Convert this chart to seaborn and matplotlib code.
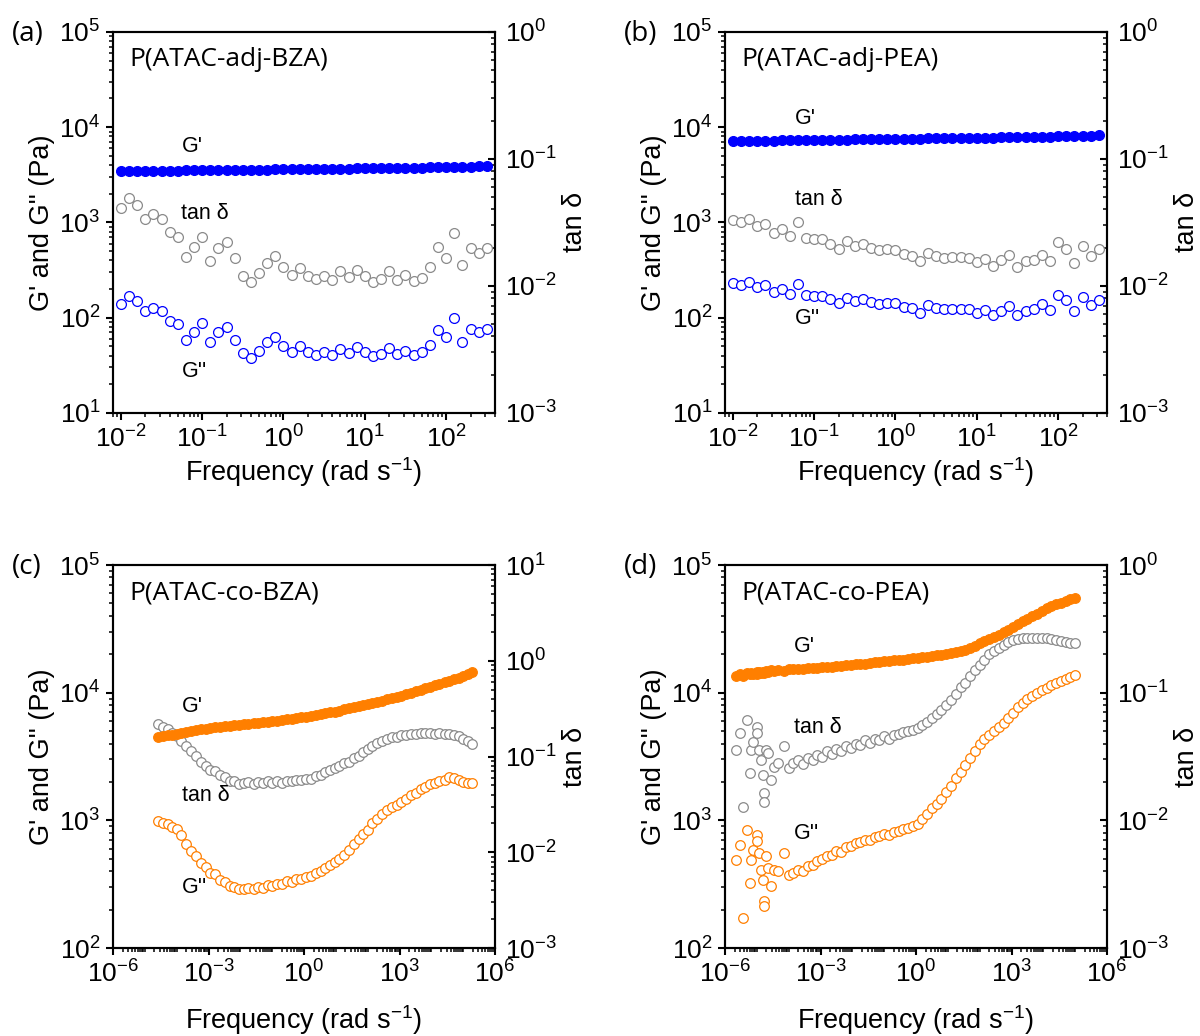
import numpy as np
import pandas as pd
import seaborn as sns
import matplotlib.pyplot as plt
from matplotlib.ticker import FixedLocator, LogLocator, LogFormatterSciNotation, NullFormatter

# ---------------- data ----------------
# (a) / (b): frequency sweeps, 10 points per decade
freq_ab = [0.01, 0.0126, 0.0158, 0.02, 0.0251, 0.0316, 0.0398, 0.0501, 0.0631, 0.0794,
           0.1, 0.126, 0.158, 0.2, 0.251, 0.316, 0.398, 0.501, 0.631, 0.794,
           1.0, 1.26, 1.58, 2.0, 2.51, 3.16, 3.98, 5.01, 6.31, 7.94,
           10.0, 12.6, 15.8, 20.0, 25.1, 31.6, 39.8, 50.1, 63.1, 79.4,
           100.0, 126.0, 158.0, 200.0, 251.0, 316.0]

gp_a = [3450, 3455, 3465, 3470, 3480, 3490, 3495, 3505, 3510, 3520,
        3530, 3535, 3545, 3550, 3560, 3570, 3575, 3585, 3590, 3600,
        3610, 3620, 3625, 3635, 3645, 3655, 3660, 3670, 3680, 3690,
        3700, 3710, 3720, 3730, 3740, 3750, 3760, 3770, 3785, 3795,
        3810, 3820, 3835, 3850, 3870, 3890]
gpp_a = [140, 169, 150, 117, 127, 117, 92, 85, 59, 71,
         87, 56, 70, 79, 59, 43, 38, 45, 55, 63,
         50, 44, 50, 44, 41, 44, 41, 47, 43, 49,
         44, 40, 42, 48, 42, 45, 41, 44, 52, 75,
         63, 100, 56, 77, 71, 77]
tan_a = [0.0410, 0.0488, 0.0435, 0.0338, 0.0367, 0.0338, 0.0264, 0.0243, 0.0170, 0.0202,
         0.0245, 0.0158, 0.0198, 0.0220, 0.0166, 0.0119, 0.0107, 0.0126, 0.0152, 0.0171,
         0.0140, 0.0121, 0.0138, 0.0119, 0.0114, 0.0119, 0.0111, 0.0130, 0.0118, 0.0134,
         0.0119, 0.0107, 0.0114, 0.0130, 0.0111, 0.0121, 0.0109, 0.0116, 0.0141, 0.0202,
         0.0166, 0.0261, 0.0146, 0.0198, 0.0182, 0.0199]

gp_b = [7140, 7160, 7175, 7200, 7215, 7240, 7255, 7280, 7300, 7315,
        7340, 7360, 7375, 7400, 7420, 7440, 7455, 7480, 7500, 7520,
        7540, 7560, 7580, 7600, 7620, 7640, 7660, 7685, 7700, 7720,
        7745, 7760, 7790, 7810, 7840, 7860, 7890, 7910, 7940, 7970,
        8000, 8030, 8060, 8100, 8140, 8190]
gpp_b = [229, 220, 237, 211, 220, 187, 201, 176, 227, 173,
         169, 169, 156, 141, 162, 150, 158, 146, 140, 144,
         141, 130, 127, 113, 136, 127, 122, 124, 124, 122,
         113, 120, 108, 117, 133, 106, 117, 122, 138, 120,
         171, 152, 117, 166, 135, 153]
tan_b = [0.0332, 0.0318, 0.0336, 0.0298, 0.0309, 0.0261, 0.0281, 0.0248, 0.0316, 0.0240,
         0.0234, 0.0234, 0.0215, 0.0195, 0.0224, 0.0205, 0.0214, 0.0199, 0.0193, 0.0196,
         0.0193, 0.0178, 0.0173, 0.0156, 0.0182, 0.0171, 0.0166, 0.0169, 0.0168, 0.0166,
         0.0153, 0.0163, 0.0144, 0.0159, 0.0174, 0.0140, 0.0156, 0.0161, 0.0176, 0.0156,
         0.0220, 0.0195, 0.0152, 0.0207, 0.0171, 0.0195]

# (c): master curve P(ATAC-co-BZA)
freq_c = [2.6e-5, 3.7e-5, 5.2e-5, 7.3e-5, 1.0e-4, 1.4e-4, 2.0e-4, 2.9e-4, 4.1e-4, 5.8e-4,
          8.2e-4, 1.15e-3, 1.6e-3, 2.3e-3, 3.3e-3, 4.6e-3, 6.5e-3, 9.2e-3, 0.013, 0.018,
          0.026, 0.037, 0.052, 0.073, 0.10, 0.14, 0.20, 0.29, 0.41, 0.58,
          0.82, 1.15, 1.6, 2.3, 3.3, 4.6, 6.5, 9.2, 13, 18,
          26, 37, 52, 73, 100, 140, 200, 290, 410, 580,
          820, 1150, 1600, 2300, 3300, 4600, 6500, 9200, 13000, 18000,
          26000, 37000, 52000, 73000, 1.0e5, 1.4e5, 1.9e5]
gp_c = [4500, 4570, 4630, 4700, 4760, 4840, 4920, 5000, 5080, 5150,
        5230, 5310, 5350, 5410, 5460, 5510, 5560, 5610, 5660, 5710,
        5750, 5810, 5860, 5900, 5960, 6030, 6100, 6180, 6250, 6340,
        6410, 6500, 6590, 6700, 6810, 6900, 7010, 7110, 7240, 7390,
        7530, 7690, 7850, 8000, 8150, 8320, 8490, 8670, 8850, 9040,
        9250, 9460, 9700, 9980, 10280, 10550, 10840, 11140, 11450, 11750,
        12080, 12450, 12770, 13090, 13430, 13960, 14450]
gpp_c = [982, 955, 940, 885, 850, 765, 650, 580, 530, 460,
         432, 390, 378, 340, 328, 305, 302, 288, 292, 297,
         288, 303, 296, 310, 305, 318, 318, 333, 332, 345,
         350, 362, 370, 388, 401, 425, 445, 476, 498, 540,
         585, 656, 712, 780, 845, 950, 1030, 1130, 1195, 1280,
         1330, 1400, 1470, 1575, 1650, 1765, 1835, 1910, 1965, 2050,
         2080, 2170, 2130, 2070, 1990, 1950, 1960]
tan_c = [0.219, 0.204, 0.195, 0.176, 0.164, 0.144, 0.128, 0.113, 0.101, 0.088,
         0.080, 0.072, 0.070, 0.064, 0.061, 0.056, 0.056, 0.052, 0.0525, 0.0545,
         0.0520, 0.0548, 0.0525, 0.0555, 0.0532, 0.0552, 0.0535, 0.0555, 0.0552, 0.0566,
         0.0565, 0.0580, 0.0585, 0.0622, 0.0640, 0.0690, 0.0718, 0.0765, 0.0790, 0.0848,
         0.0885, 0.0962, 0.101, 0.112, 0.119, 0.130, 0.137, 0.147, 0.152, 0.159,
         0.161, 0.167, 0.169, 0.173, 0.173, 0.176, 0.175, 0.177, 0.174, 0.176,
         0.173, 0.174, 0.169, 0.163, 0.152, 0.144, 0.135]

# (d): master curve P(ATAC-co-PEA)
freq_d = [2.19e-6, 2.88e-6, 3.80e-6, 5.01e-6, 6.17e-6, 6.61e-6, 7.59e-6, 1.0e-5, 1.02e-5, 1.15e-5,
          1.32e-5, 1.58e-5, 1.62e-5, 1.66e-5, 2.0e-5, 2.29e-5, 2.82e-5, 3.47e-5, 4.57e-5, 7.24e-5,
          1.05e-4, 1.41e-4, 2.0e-4, 2.82e-4, 3.98e-4, 5.62e-4, 7.94e-4, 1.12e-3, 1.58e-3, 2.24e-3,
          3.16e-3, 4.47e-3, 6.31e-3, 8.91e-3, 0.0126, 0.0178, 0.0251, 0.0355, 0.0501, 0.0708,
          0.1, 0.141, 0.2, 0.282, 0.398, 0.562, 0.794, 1.12, 1.58, 2.24,
          3.16, 4.47, 6.31, 8.91, 12.6, 17.8, 25.1, 35.5, 50.1, 70.8,
          100, 141, 200, 282, 398, 562, 794, 1122, 1585, 2239,
          3162, 4467, 6310, 8913, 12589, 17783, 25119, 35481, 50119, 70795,
          100000]
gp_d = [13400, 13900, 13600, 14200, 13900, 14300, 13900, 14500, 14100, 14600,
        14200, 14600, 14300, 14400, 14800, 14500, 15000, 14700, 15100, 14900,
        15200, 15200, 15300, 15400, 15500, 15600, 15700, 15800, 15900, 16000,
        16100, 16300, 16400, 16500, 16700, 16800, 16900, 17100, 17300, 17400,
        17600, 17700, 17900, 18100, 18200, 18400, 18600, 18800, 19000, 19200,
        19400, 19600, 19900, 20100, 20400, 20700, 21100, 21700, 22400, 23300,
        24500, 25400, 26300, 27400, 28400, 29800, 31100, 32700, 34400, 36200,
        38000, 39800, 41700, 43900, 45700, 47400, 49200, 50800, 52500, 54100,
        55600]
gpp_d = [492, 644, 172, 845, 323, 492, 589, 773, 685, 554,
         411, 343, 232, 212, 522, 424, 304, 411, 398, 554,
         375, 389, 407, 398, 437, 447, 479, 501, 525, 537,
         575, 562, 617, 631, 661, 676, 708, 700, 741, 750,
         776, 767, 813, 822, 851, 871, 902, 944, 1023, 1122,
         1245, 1349, 1479, 1660, 1862, 2138, 2399, 2723, 3090, 3508,
         3981, 4315, 4677, 5012, 5370, 5821, 6310, 6918, 7762, 8318,
         8913, 9441, 9931, 10470, 10960, 11480, 11940, 12450, 12880, 13340,
         13840]
tan_d = [0.0356, 0.048, 0.0128, 0.061, 0.0233, 0.0356, 0.0413, 0.0542, 0.048, 0.0356,
         0.0297, 0.0226, 0.0163, 0.0140, 0.0356, 0.0335, 0.0207, 0.0263, 0.0279, 0.0382,
         0.0255, 0.0282, 0.0295, 0.0275, 0.0309, 0.0295, 0.0324, 0.0316, 0.0347, 0.0331,
         0.0363, 0.0347, 0.0380, 0.0372, 0.0398, 0.0389, 0.0427, 0.0407, 0.0437, 0.0427,
         0.0457, 0.0437, 0.0468, 0.0479, 0.0490, 0.0501, 0.0513, 0.0525, 0.0562, 0.0589,
         0.0631, 0.0676, 0.0731, 0.0794, 0.0871, 0.0977, 0.110, 0.120, 0.135, 0.151,
         0.166, 0.182, 0.200, 0.211, 0.224, 0.237, 0.248, 0.257, 0.264, 0.266,
         0.268, 0.268, 0.267, 0.267, 0.266, 0.264, 0.260, 0.254, 0.248, 0.244,
         0.243]

BLUE = "#0000FF"
ORANGE = "#FF7F00"
GRAY = "#8A8A8A"

sns.set_style("ticks")
plt.rcParams["font.family"] = ["Liberation Sans", "DejaVu Sans"]
plt.rcParams["mathtext.fontset"] = "custom"
plt.rcParams["mathtext.rm"] = "Liberation Sans"
plt.rcParams["mathtext.it"] = "Liberation Sans:italic"
plt.rcParams["mathtext.bf"] = "Liberation Sans:bold"
for key in ("text.color", "axes.labelcolor", "xtick.color", "ytick.color", "axes.edgecolor"):
    plt.rcParams[key] = "black"
LIGHT = ["Open Sans", "DejaVu Sans"]

fig = plt.figure(figsize=(12, 10.36), dpi=100)


def panel(pos, letter, title, freq, gp, gpp, tand, color, xlim, ylim, tlim, xmajor,
          notes, size, xlab_y):
    ax = fig.add_axes(pos)
    ax2 = ax.twinx()
    ax.set_zorder(ax2.get_zorder() + 1)
    ax.patch.set_visible(False)

    df = pd.DataFrame({"freq": freq, "gp": gp, "gpp": gpp, "tand": tand})
    sns.scatterplot(data=df, x="freq", y="tand", ax=ax2, marker="o", s=size,
                    facecolor="white", edgecolor=GRAY, linewidth=0.9)
    sns.scatterplot(data=df, x="freq", y="gpp", ax=ax, marker="o", s=size,
                    facecolor="white", edgecolor=color, linewidth=0.9)
    sns.scatterplot(data=df, x="freq", y="gp", ax=ax, marker="o", s=size,
                    color=color, edgecolor=color, linewidth=0.9)

    ax.set_xscale("log")
    ax.set_yscale("log")
    ax2.set_yscale("log")
    ax.set_xlim(xlim)
    ax.set_ylim(ylim)
    ax2.set_ylim(tlim)

    ax.xaxis.set_major_locator(FixedLocator(xmajor))
    ax.xaxis.set_major_formatter(LogFormatterSciNotation())
    ax.xaxis.set_minor_locator(LogLocator(base=10, subs=np.arange(1, 10), numticks=200))
    ax.xaxis.set_minor_formatter(NullFormatter())
    for a in (ax, ax2):
        a.yaxis.set_major_locator(LogLocator(base=10, numticks=20))
        a.yaxis.set_major_formatter(LogFormatterSciNotation())
        a.yaxis.set_minor_locator(LogLocator(base=10, subs=np.arange(2, 10), numticks=20))
        a.yaxis.set_minor_formatter(NullFormatter())
        for sp in a.spines.values():
            sp.set_linewidth(1.5)
            sp.set_color("black")

    ax.tick_params(which="major", direction="out", length=5, width=1.5, labelsize=19,
                   pad=4, top=False, right=False)
    ax.tick_params(which="minor", direction="out", length=3, width=1.1, top=False, right=False)
    ax2.tick_params(axis="y", which="major", direction="in", length=5, width=1.5,
                    labelsize=19, pad=7)
    ax2.tick_params(axis="y", which="minor", direction="in", length=3, width=1.1)

    ax.set_xlabel("Frequency (rad s$^{-1}$)", fontsize=19.5)
    ax.xaxis.set_label_coords(0.5, xlab_y)
    ax.set_ylabel("G' and G'' (Pa)", fontsize=19.5)
    ax.yaxis.set_label_coords(-0.152, 0.5)
    ax2.set_ylabel("tan δ", fontsize=19.5)
    ax2.yaxis.set_label_coords(1.175, 0.5)

    ax.text(-0.265, 0.995, f"({letter})", transform=ax.transAxes, fontsize=20,
            family=LIGHT, ha="left", va="center")
    ax.text(0.042, 0.928, title, transform=ax.transAxes, fontsize=19,
            family=LIGHT, ha="left", va="center")
    for x, y, s in notes:
        ax.text(x, y, s, transform=ax.transAxes, fontsize=15.5, ha="left", va="center")


panel([0.0942, 0.6014, 0.3183, 0.3678], "a", "P(ATAC-adj-BZA)",
      freq_ab, gp_a, gpp_a, tan_a, BLUE, (0.008, 400), (10, 1e5), (1e-3, 1),
      [1e-2, 1e-1, 1, 10, 100],
      [(0.18, 0.699, "G'"), (0.179, 0.524, "tan δ"), (0.18, 0.109, "G''")], 50, -0.112)
panel([0.6042, 0.6014, 0.3183, 0.3678], "b", "P(ATAC-adj-PEA)",
      freq_ab, gp_b, gpp_b, tan_b, BLUE, (0.008, 400), (10, 1e5), (1e-3, 1),
      [1e-2, 1e-1, 1, 10, 100],
      [(0.183, 0.773, "G'"), (0.183, 0.559, "tan δ"), (0.183, 0.249, "G''")], 50, -0.112)
panel([0.0942, 0.0849, 0.3183, 0.3697], "c", "P(ATAC-co-BZA)",
      freq_c, gp_c, gpp_c, tan_c, ORANGE, (1e-6, 1e6), (100, 1e5), (1e-3, 10),
      [1e-6, 1e-3, 1, 1e3, 1e6],
      [(0.18, 0.630, "G'"), (0.18, 0.397, "tan δ"), (0.18, 0.157, "G''")], 48, -0.143)
panel([0.6042, 0.0849, 0.3183, 0.3697], "d", "P(ATAC-co-PEA)",
      freq_d, gp_d, gpp_d, tan_d, ORANGE, (1e-6, 1e6), (100, 1e5), (1e-3, 1),
      [1e-6, 1e-3, 1, 1e3, 1e6],
      [(0.181, 0.787, "G'"), (0.181, 0.577, "tan δ"), (0.181, 0.30, "G''")], 48, -0.143)

fig.savefig("out.png", dpi=100)
